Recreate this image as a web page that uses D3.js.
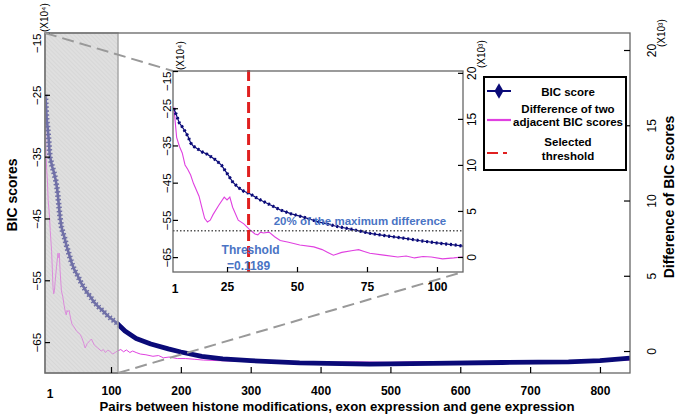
<!DOCTYPE html>
<html><head><meta charset="utf-8">
<script src="https://cdn.jsdelivr.net/npm/d3@7"></script>
<style>
body{margin:0;background:#fff;}
svg{display:block;font-family:"Liberation Sans",Arial,sans-serif;}
</style>
</head><body>
<svg id="c" width="678" height="420"></svg>
<script>
// ---- data ----
// BIC score (x10^4) by pair index
const bicIndex = [6,8,9,10,11,12,13,14,16,18,21,23,25,27,29,31,33,36,40,44,48,52,58,64,70,76,82,88,94,100,106,110,120,136,157,182,200,230,260,300,370,470,560,660,755,800,843];
const bicScore = [-25.0,-29.0,-30.0,-31.2,-32.5,-34.3,-35.2,-35.7,-36.7,-37.4,-38.9,-40.3,-42.5,-44.8,-46.3,-47.3,-47.9,-49.3,-50.8,-52.3,-53.4,-54.2,-55.6,-56.7,-57.6,-58.6,-59.3,-59.9,-60.6,-61.2,-61.7,-62.1,-63.2,-64.4,-65.3,-66.1,-66.6,-67.3,-67.7,-68.0,-68.35,-68.55,-68.45,-68.3,-68.2,-68.0,-67.6];
// Difference of two adjacent BIC scores (x10^3)
const diffIndex = [6,7,8,9,10,11,12,13,15,16,17,18,19,20,22,24,25,26,27,29,31,33,35,36,37,38,40,42,44,47,51,56,59,61,63,66,70,72,74,76,81,86,89,92,95,98,102,106,109,114,118,122,127,131,136,142,150,160,168,175,183,195,207,220,232,260,300,350,400,450,500,550,600,650,700,760,843];
const diffScore = [16.3,13.0,12.0,11.3,10.0,9.5,8.9,8.0,6.6,5.4,4.2,3.8,4.0,4.6,5.6,6.5,6.2,6.5,5.4,4.0,3.6,3.0,2.5,2.4,2.7,2.6,2.7,2.2,1.8,1.6,1.3,1.1,0.8,0.5,0.2,0.5,0.7,0.8,0.6,0.4,0.2,0.0,0.1,-0.1,0.05,0.0,-0.2,-0.1,0.0,0.1,-0.05,0.07,-0.1,0.0,-0.1,-0.2,-0.25,-0.35,-0.3,-0.45,-0.4,-0.5,-0.5,-0.55,-0.6,-0.65,-0.7,-0.72,-0.75,-0.72,-0.75,-0.7,-0.72,-0.7,-0.68,-0.65,-0.6];

const mainXTicks = [100,200,300,400,500,600,700,800];
const insetXTicks = [25,50,75,100];
const firstXLabel = "1";
const leftTicks = [-15,-25,-35,-45,-55,-65];
const rightTicks = [0,5,10,15,20];
const zoomRange = [5.5,110];
const thresholdIndex = 32.7;
const thresholdLevel = 2.85;
const thresholdText = ["Threshold","=0.1189"];
const levelText = "20% of the maximum difference";
const legendLabels = [["BIC score"],["Difference of two","adjacent BIC scores"],["Selected","threshold"]];

const NAVY = "#0a0a78", MAG = "#e040e0", RED = "#e02020", TXTBLUE = "#4a74c4";

const bic = bicIndex.map((d,i)=>({x:d,y:bicScore[i]}));
const diff = diffIndex.map((d,i)=>({x:d,y:diffScore[i]}));

const svg = d3.select("#c");
const defs = svg.append("defs");

// hatch pattern
const pat = defs.append("pattern").attr("id","hatch").attr("patternUnits","userSpaceOnUse")
  .attr("width",3).attr("height",3).attr("patternTransform","rotate(-45)");
pat.append("rect").attr("width",3).attr("height",3).attr("fill","#e8e8e8");
pat.append("line").attr("x1",0).attr("y1",0).attr("x2",0).attr("y2",3).attr("stroke","#cbcbcb").attr("stroke-width",1);

// ---- main scales ----
const M = {l:45,r:630,t:33,b:373};
const xM = d3.scaleLinear().domain([5.5,843]).range([M.l,M.r]);
const yML = d3.scaleLinear().domain([-70,-15]).range([M.b,M.t]);
const yMR = d3.scaleLinear().domain([-1.46,21.13]).range([M.b,M.t]);

defs.append("clipPath").attr("id","mainClip").append("rect")
  .attr("x",M.l).attr("y",M.t).attr("width",M.r-M.l).attr("height",M.b-M.t);
defs.append("clipPath").attr("id","zoomClip").append("rect")
  .attr("x",xM(zoomRange[0])).attr("y",M.t).attr("width",xM(zoomRange[1])-xM(zoomRange[0])).attr("height",M.b-M.t);

// shaded zoom region
svg.append("rect").attr("x",xM(zoomRange[0])).attr("y",M.t)
  .attr("width",xM(zoomRange[1])-xM(zoomRange[0])).attr("height",M.b-M.t)
  .attr("fill","url(#hatch)");

const gm = svg.append("g").attr("clip-path","url(#mainClip)");
const lineMR = d3.line().x(d=>xM(d.x)).y(d=>yMR(d.y));
const lineML = d3.line().x(d=>xM(d.x)).y(d=>yML(d.y));
gm.append("path").datum(diff).attr("d",lineMR).attr("fill","none").attr("stroke",MAG).attr("stroke-width",1);
gm.append("path").datum(bic).attr("d",lineML).attr("fill","none").attr("stroke",NAVY).attr("stroke-width",4.8).attr("stroke-linejoin","round");
// thinner line with "+"-like markers inside the zoom region
const gz = svg.append("g").attr("clip-path","url(#zoomClip)");
gz.append("rect").attr("x",xM(zoomRange[0])).attr("y",M.t)
  .attr("width",xM(zoomRange[1])-xM(zoomRange[0])).attr("height",M.b-M.t).attr("fill","url(#hatch)");
gz.append("path").datum(diff).attr("d",lineMR).attr("fill","none").attr("stroke",MAG).attr("stroke-width",1);
gz.append("path").datum(bic).attr("d",lineML).attr("fill","none").attr("stroke",NAVY).attr("stroke-width",2.6);
gz.append("path").datum(bic).attr("d",lineML)
  .attr("fill","none").attr("stroke",NAVY).attr("stroke-width",5.5).attr("stroke-dasharray","1.5,2.4");

// translucent overlay on the zoom region
svg.append("rect").attr("x",xM(zoomRange[0])).attr("y",M.t)
  .attr("width",xM(zoomRange[1])-xM(zoomRange[0])).attr("height",M.b-M.t)
  .attr("fill","#d6d6d6").attr("opacity",0.5);
svg.append("rect").attr("x",xM(zoomRange[0])).attr("y",M.t)
  .attr("width",xM(zoomRange[1])-xM(zoomRange[0])).attr("height",M.b-M.t)
  .attr("fill","none").attr("stroke","#a8a8a8").attr("stroke-width",1.5);

// main box
svg.append("rect").attr("x",M.l).attr("y",M.t).attr("width",M.r-M.l).attr("height",M.b-M.t)
  .attr("fill","none").attr("stroke","#666").attr("stroke-width",1.3);

// main axes
const axB = svg.append("g").attr("transform",`translate(0,${M.b})`)
  .call(d3.axisBottom(xM).tickValues(mainXTicks).tickSizeInner(-6).tickSizeOuter(0).tickPadding(13));
const axL = svg.append("g").attr("transform",`translate(${M.l},0)`)
  .call(d3.axisLeft(yML).tickValues(leftTicks).tickSizeInner(-5).tickSizeOuter(0).tickFormat(d3.format("d")));
const axR = svg.append("g").attr("transform",`translate(${M.r},0)`)
  .call(d3.axisRight(yMR).tickValues(rightTicks).tickSizeInner(-6).tickSizeOuter(0));

function styleAxis(g){ g.select(".domain").remove(); g.selectAll(".tick line").attr("stroke","#000").attr("stroke-width",1.2); }
[axB,axL,axR].forEach(styleAxis);
axB.selectAll(".tick text").attr("font-size",12).attr("font-weight","bold").attr("fill","#000").attr("font-family",null);
axB.append("text").attr("x",xM(zoomRange[0])+5).attr("y",25).attr("text-anchor","middle")
  .attr("font-size",12).attr("font-weight","bold").attr("fill","#000").text(firstXLabel);
axL.selectAll(".tick text").attr("font-family",null).attr("font-size",11.5).attr("fill","#000")
  .attr("text-anchor",d=>d===-15?"end":"middle").attr("transform","rotate(-90)").attr("x",0).attr("y",-4).attr("dy","0");
axR.selectAll(".tick text").attr("font-family",null).attr("font-size",12).attr("fill","#000")
  .attr("text-anchor","middle").attr("transform","rotate(-90)").attr("x",0).attr("y",26).attr("dy","0");

// exponent notes
svg.append("text").attr("transform",`translate(${M.l+3},${M.t-1}) rotate(-90)`).attr("font-size",10).attr("fill","#000").text("(X10⁴)");
svg.append("text").attr("transform",`translate(${M.r+35},${M.t+14}) rotate(-90)`).attr("font-size",10).attr("fill","#000").text("(X10³)");

// titles
svg.append("text").attr("x",337).attr("y",411).attr("text-anchor","middle").attr("font-size",13.2).attr("font-weight","bold")
  .text("Pairs between histone modifications, exon expression and gene expression");
svg.append("text").attr("transform",`translate(17,195) rotate(-90)`).attr("text-anchor","middle").attr("font-size",14).attr("font-weight","bold").text("BIC scores");
svg.append("text").attr("transform",`translate(674,197) rotate(-90)`).attr("text-anchor","middle").attr("font-size",14).attr("font-weight","bold").text("Difference of BIC scores");

// ---- inset ----
const I = {l:173,r:463,t:71,b:272};
const xI = d3.scaleLinear().domain([5.7,109.3]).range([I.l,I.r]);
const yIL = d3.scaleLinear().domain([-69,-15]).range([I.b,I.t]);
const yIR = d3.scaleLinear().domain([-1.63,20.2]).range([I.b,I.t]);

// zoom connector lines
const dashStyle = s=>s.attr("stroke","#999").attr("stroke-width",2).attr("stroke-dasharray","12,6").attr("fill","none");
svg.append("line").attr("x1",xM(zoomRange[0])).attr("y1",M.t).attr("x2",I.l).attr("y2",I.t).call(dashStyle);
svg.append("line").attr("x1",xM(zoomRange[1])).attr("y1",M.b).attr("x2",I.r).attr("y2",I.b).call(dashStyle);

svg.append("rect").attr("x",I.l).attr("y",I.t).attr("width",I.r-I.l).attr("height",I.b-I.t).attr("fill","#fff");
defs.append("clipPath").attr("id","insetClip").append("rect")
  .attr("x",I.l).attr("y",I.t-3).attr("width",I.r-I.l).attr("height",I.b-I.t+3);
const gi = svg.append("g").attr("clip-path","url(#insetClip)");
gi.append("path").datum(diff).attr("d",d3.line().x(d=>xI(d.x)).y(d=>yIR(d.y)))
  .attr("fill","none").attr("stroke",MAG).attr("stroke-width",1.1);
const lineIL = d3.line().x(d=>xI(d.x)).y(d=>yIL(d.y));
gi.append("path").datum(bic).attr("d",lineIL).attr("fill","none").attr("stroke",NAVY).attr("stroke-width",1.2);
gi.append("path").datum(bic).attr("d",lineIL).attr("fill","none").attr("stroke",NAVY).attr("stroke-width",3.2).attr("stroke-dasharray","2,2.8");
// 20% level line
gi.append("line").attr("x1",I.l).attr("x2",I.r).attr("y1",yIR(thresholdLevel)).attr("y2",yIR(thresholdLevel))
  .attr("stroke","#555").attr("stroke-width",1.3).attr("stroke-dasharray","1.5,2");
// threshold line
svg.append("line").attr("x1",xI(thresholdIndex)).attr("x2",xI(thresholdIndex)).attr("y1",I.t-1).attr("y2",I.b)
  .attr("stroke",RED).attr("stroke-width",3).attr("stroke-dasharray","11,5");
svg.append("text").attr("x",360).attr("y",yIR(thresholdLevel)-6).attr("text-anchor","middle").attr("font-size",11.5).attr("font-weight","bold").attr("fill",TXTBLUE).text(levelText);
svg.append("text").attr("x",xI(thresholdIndex)+2).attr("y",254).attr("text-anchor","middle").attr("font-size",12).attr("font-weight","bold").attr("fill",TXTBLUE).text(thresholdText[0]);
svg.append("text").attr("x",xI(thresholdIndex)).attr("y",270).attr("text-anchor","middle").attr("font-size",12).attr("font-weight","bold").attr("fill",TXTBLUE).text(thresholdText[1]);

svg.append("rect").attr("x",I.l).attr("y",I.t).attr("width",I.r-I.l).attr("height",I.b-I.t)
  .attr("fill","none").attr("stroke","#666").attr("stroke-width",1.3);

const aiB = svg.append("g").attr("transform",`translate(0,${I.b})`)
  .call(d3.axisBottom(xI).tickValues(insetXTicks).tickSizeInner(-5).tickSizeOuter(0).tickPadding(10));
const aiL = svg.append("g").attr("transform",`translate(${I.l},0)`)
  .call(d3.axisLeft(yIL).tickValues(leftTicks).tickSizeInner(-5).tickSizeOuter(0));
const aiR = svg.append("g").attr("transform",`translate(${I.r},0)`)
  .call(d3.axisRight(yIR).tickValues(rightTicks).tickSizeInner(-5).tickSizeOuter(0));
[aiB,aiL,aiR].forEach(styleAxis);
aiB.selectAll(".tick text").attr("font-size",12).attr("font-weight","bold").attr("fill","#000").attr("font-family",null);
aiB.append("text").attr("x",xI(5.7)+2).attr("y",21).attr("text-anchor","middle")
  .attr("font-size",12).attr("font-weight","bold").attr("fill","#000").text(firstXLabel);
aiL.selectAll(".tick text").attr("font-family",null).attr("font-size",11.5).attr("fill","#000")
  .attr("text-anchor",d=>d===-15?"end":"middle").attr("transform","rotate(-90)").attr("x",0).attr("y",-2).attr("dy","0");
aiR.selectAll(".tick text").attr("font-family",null).attr("font-size",12).attr("fill","#000")
  .attr("text-anchor","middle").attr("transform","rotate(-90)").attr("x",0).attr("y",13).attr("dy","0");
svg.append("text").attr("transform",`translate(${I.l+11},${I.t-1}) rotate(-90)`).attr("font-size",10).attr("fill","#000").text("(X10⁴)");
svg.append("text").attr("transform",`translate(${I.r+22},${I.t-3}) rotate(-90)`).attr("font-size",10).attr("fill","#000").text("(X10³)");

// ---- legend ----
const L = {x:484,y:77,w:142,h:93};
const lg = svg.append("g");
lg.append("rect").attr("x",L.x).attr("y",L.y).attr("width",L.w).attr("height",L.h).attr("fill","#fff").attr("stroke","#000").attr("stroke-width",2);
const rowsY = [91,120,153];
lg.append("line").attr("x1",L.x+3).attr("x2",L.x+27).attr("y1",rowsY[0]).attr("y2",rowsY[0]).attr("stroke",NAVY).attr("stroke-width",2);
lg.append("path").attr("d",d3.symbol(d3.symbolDiamond,70)()).attr("transform",`translate(${L.x+15},${rowsY[0]})`).attr("fill",NAVY);
lg.append("line").attr("x1",L.x+3).attr("x2",L.x+27).attr("y1",rowsY[1]).attr("y2",rowsY[1]).attr("stroke",MAG).attr("stroke-width",2.2);
lg.append("line").attr("x1",L.x+3).attr("x2",L.x+28).attr("y1",rowsY[2]).attr("y2",rowsY[2]).attr("stroke",RED).attr("stroke-width",2.2).attr("stroke-dasharray","11,5,4,5");
const ty = [[96],[113,126],[146,160]];
legendLabels.forEach((lines,i)=>lines.forEach((t,j)=>{
  lg.append("text").attr("x",568).attr("y",ty[i][j]).attr("text-anchor","middle").attr("font-size",11.5).attr("font-weight","bold").attr("fill","#000").text(t);
}));
</script>
</body></html>
